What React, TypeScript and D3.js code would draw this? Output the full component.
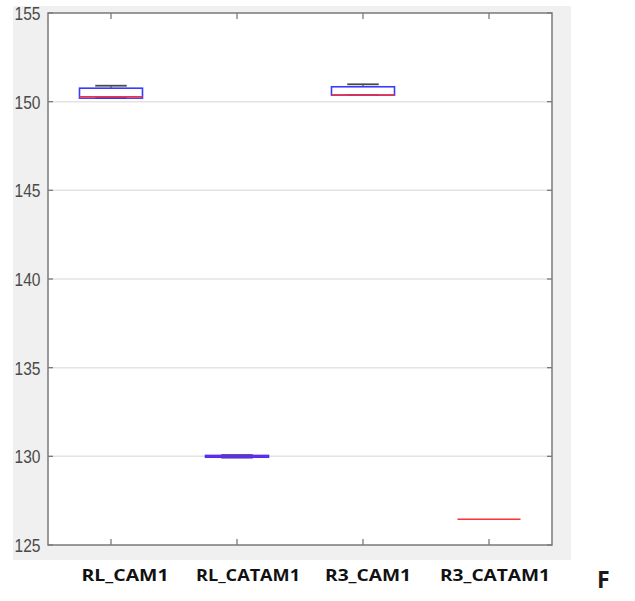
import React from "react";
import * as d3 from "d3";

const categories = ["RL_CAM1", "RL_CATAM1", "R3_CAM1", "R3_CATAM1"];
const whiskerLow = [150.2, 129.93, 150.37, 126.45];
const q1 = [150.2, 129.95, 150.37, 126.45];
const median = [150.28, 130.0, 150.37, 126.45];
const q3 = [150.76, 130.05, 150.84, 126.45];
const whiskerHigh = [150.9, 130.07, 150.98, 126.45];
const yTicks = [125, 130, 135, 140, 145, 150, 155];
const panelLetter = "F";

// layout
const W = 635, H = 601;
const plot = { left: 48, right: 552, top: 13, bottom: 545 };
const labelOffsets = [14, 11, 5, 6];
const labelWidths = [87, 104, 86, 110];

export default function App() {
  const x = d3.scaleLinear().domain([0.5, categories.length + 0.5]).range([plot.left, plot.right]);
  const y = d3.scaleLinear().domain([125, 155]).range([plot.bottom, plot.top]);
  const unit = x(2) - x(1);
  const boxHalf = unit * 0.25;
  const capHalf = unit * 0.125;
  const axisColor = "#7a7a7a";

  return (
    <svg width={W} height={H} style={{ position: "absolute", left: 0, top: 0, background: "#fff" }}>
      <rect x={13} y={6} width={558} height={554} fill="#f0f0f0" />
      <rect x={plot.left} y={plot.top} width={plot.right - plot.left} height={plot.bottom - plot.top} fill="#fff" />
      {yTicks.map((t) => (
        <g key={t}>
          {t !== 125 && t !== 155 && (
            <line x1={plot.left} x2={plot.right} y1={y(t)} y2={y(t)} stroke="#e3e3e3" strokeWidth={1.5} />
          )}
          <line x1={plot.left} x2={plot.left + 5} y1={y(t)} y2={y(t)} stroke={axisColor} strokeWidth={1.3} />
          <line x1={plot.right - 5} x2={plot.right} y1={y(t)} y2={y(t)} stroke={axisColor} strokeWidth={1.3} />
          <text
            transform={`translate(40.5,${y(t) + 7}) scale(0.82,1)`}
            textAnchor="end"
            fontFamily="Liberation Sans, Arial, sans-serif"
            fontSize={19}
            fill="#4a4a4a"
          >
            {t}
          </text>
        </g>
      ))}
      {categories.map((c, i) => (
        <g key={c}>
          <line x1={x(i + 1)} x2={x(i + 1)} y1={plot.top} y2={plot.top + 6} stroke={axisColor} strokeWidth={1.3} />
          <line x1={x(i + 1)} x2={x(i + 1)} y1={plot.bottom} y2={plot.bottom - 6} stroke={axisColor} strokeWidth={1.3} />
        </g>
      ))}
      <rect
        x={plot.left}
        y={plot.top}
        width={plot.right - plot.left}
        height={plot.bottom - plot.top}
        fill="none"
        stroke={axisColor}
        strokeWidth={1.5}
      />
      {categories.map((c, i) => {
        const cx = x(i + 1);
        const degenerate = whiskerHigh[i] === whiskerLow[i];
        return (
          <g key={c}>
            {!degenerate && (
              <>
                <line x1={cx} x2={cx} y1={y(whiskerHigh[i])} y2={y(q3[i])} stroke="#333" strokeWidth={1} strokeDasharray="3,2" />
                <line x1={cx} x2={cx} y1={y(q1[i])} y2={y(whiskerLow[i])} stroke="#333" strokeWidth={1} strokeDasharray="3,2" />
                <line x1={cx - capHalf} x2={cx + capHalf} y1={y(whiskerHigh[i])} y2={y(whiskerHigh[i])} stroke="#4a4a4a" strokeWidth={1.8} />
                <line x1={cx - capHalf} x2={cx + capHalf} y1={y(whiskerLow[i])} y2={y(whiskerLow[i])} stroke="#2a2a8a" strokeWidth={1.8} />
                <rect
                  x={cx - boxHalf}
                  y={y(q3[i])}
                  width={boxHalf * 2}
                  height={Math.max(0, y(q1[i]) - y(q3[i]))}
                  fill="none"
                  stroke="#3a3aff"
                  strokeWidth={1.6}
                />
              </>
            )}
            <line
              x1={cx - boxHalf}
              x2={cx + boxHalf}
              y1={y(median[i])}
              y2={y(median[i])}
              stroke={i === 1 ? "#8a1fd0" : "#ff3030"}
              strokeWidth={1.5}
            />
          </g>
        );
      })}
      {categories.map((c, i) => (
        <text
          key={c}
          x={x(i + 1) + labelOffsets[i]}
          y={581}
          textAnchor="middle"
          fontFamily="Open Sans, Liberation Sans, sans-serif"
          fontWeight="bold"
          fontSize={16}
          fill="#111"
          textLength={labelWidths[i]}
          lengthAdjust="spacingAndGlyphs"
        >
          {c}
        </text>
      ))}
      <text x={597} y={588} fontFamily="Open Sans, Liberation Sans, sans-serif" fontWeight="bold" fontSize={23} fill="#1a1a1a">
        {panelLetter}
      </text>
    </svg>
  );
}
